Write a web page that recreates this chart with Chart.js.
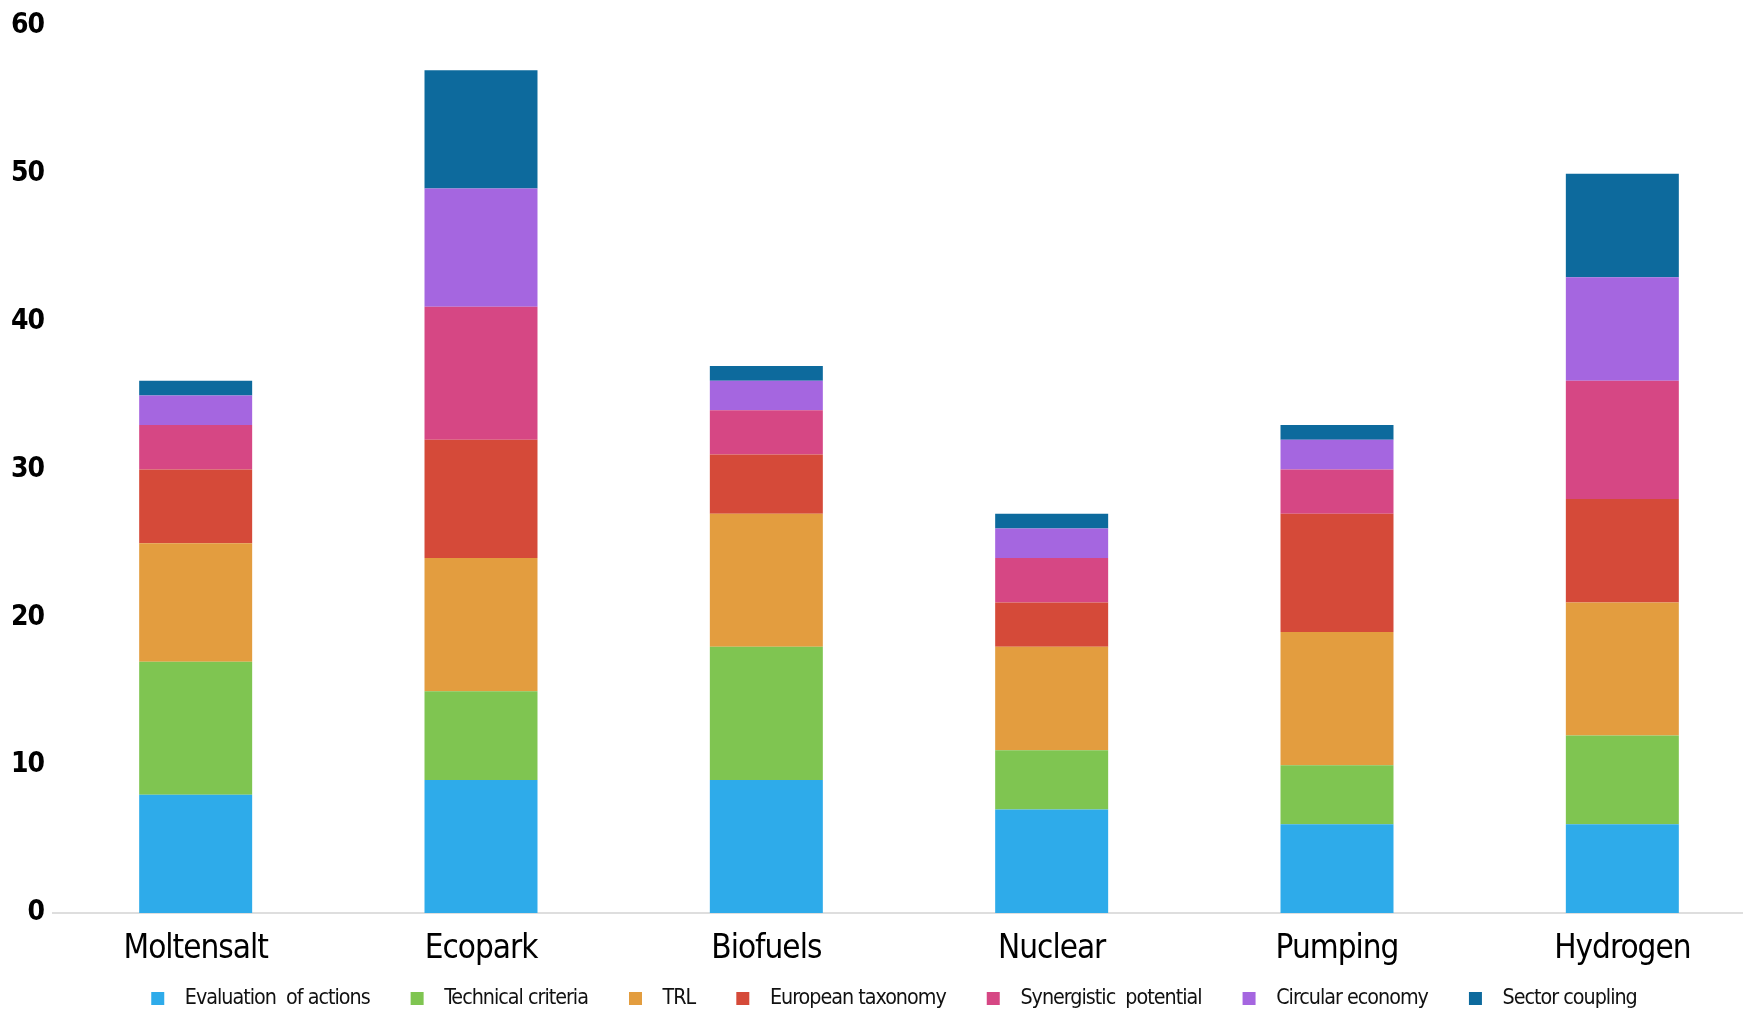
<!DOCTYPE html>
<html>
<head>
<meta charset="utf-8">
<script src="https://cdn.jsdelivr.net/npm/chart.js@4"></script>
<style>
  html, body { margin: 0; padding: 0; background: #fff; overflow: hidden; }
</style>
</head>
<body>
<canvas id="chart-1" width="1765" height="1010"></canvas>
<script>
const categories = ['Moltensalt', 'Ecopark', 'Biofuels', 'Nuclear', 'Pumping', 'Hydrogen'];
const evaluation = [8, 9, 9, 7, 6, 6];
const technical = [9, 6, 9, 4, 4, 6];
const trl = [8, 9, 9, 7, 9, 9];
const taxonomy = [5, 8, 4, 3, 8, 7];
const synergistic = [3, 9, 3, 3, 3, 8];
const circular = [2, 8, 2, 2, 2, 7];
const coupling = [1, 8, 1, 1, 1, 7];
const yTicks = [0, 10, 20, 30, 40, 50, 60];

const narrow = "'DejaVu Sans Condensed', 'Liberation Sans Narrow', 'Arial Narrow', sans-serif";

const series = [
    { label: 'Evaluation  of actions', data: evaluation, color: '#2eabea' },
    { label: 'Technical criteria', data: technical, color: '#7fc551' },
    { label: 'TRL', data: trl, color: '#e39d3f' },
    { label: 'European taxonomy', data: taxonomy, color: '#d54a39' },
    { label: 'Synergistic  potential', data: synergistic, color: '#d64784' },
    { label: 'Circular economy', data: circular, color: '#a566e0' },
    { label: 'Sector coupling', data: coupling, color: '#0d6a9d' }
];

// legend marker: small square with empty room on its left for spacing
function legendBox(color) {
    const c = document.createElement('canvas');
    c.width = 46;
    c.height = 13;
    const g = c.getContext('2d');
    g.fillStyle = color;
    g.fillRect(23, 0, 13, 13);
    return c;
}

// the only condensed font here is wider than the original, so squeeze the letters a bit
const tightText = {
    id: 'tightText',
    beforeUpdate: c => { c.ctx.letterSpacing = '-1px'; },
    beforeDraw: c => { c.ctx.letterSpacing = '-1px'; }
};

const ctx = document.getElementById('chart-1').getContext('2d');

var myBarChart = new Chart(ctx, {
    type: 'bar',
    plugins: [tightText],
    data: {
        labels: categories,
        datasets: series.map(s => ({
            label: s.label,
            data: s.data,
            backgroundColor: s.color,
            borderWidth: 0,
            categoryPercentage: 1,
            barPercentage: 0.396
        }))
    },
    options: {
        responsive: false,
        animation: false,
        layout: {
            padding: { top: 22, right: 0, bottom: 0, left: 0 }
        },
        plugins: {
            tooltip: { enabled: false },
            legend: {
                display: true,
                position: 'bottom',
                maxHeight: 40,
                labels: {
                    usePointStyle: true,
                    pointStyleWidth: 46,
                    padding: 18,
                    color: '#111',
                    font: { family: narrow, size: 21.3 },
                    generateLabels: chart => Chart.defaults.plugins.legend.labels.generateLabels(chart)
                        .map((l, i) => Object.assign(l, { pointStyle: legendBox(series[i].color) }))
                }
            }
        },
        scales: {
            x: {
                stacked: true,
                grid: { display: false, drawTicks: false },
                border: { display: true, color: '#dedede', width: 2 },
                ticks: {
                    padding: 17,
                    color: '#000',
                    font: { family: narrow, size: 33 }
                },
                afterFit: s => { s.height = 57; }
            },
            y: {
                stacked: true,
                min: 0,
                max: 60,
                afterBuildTicks: s => { s.ticks = yTicks.map(v => ({ value: v })); },
                grid: { display: false, drawTicks: false },
                border: { display: false },
                ticks: {
                    padding: 9,
                    color: '#000',
                    font: { family: narrow, size: 28, weight: 'bold' }
                },
                afterFit: s => { s.width = 53; }
            }
        }
    }
});
</script>
</body>
</html>
